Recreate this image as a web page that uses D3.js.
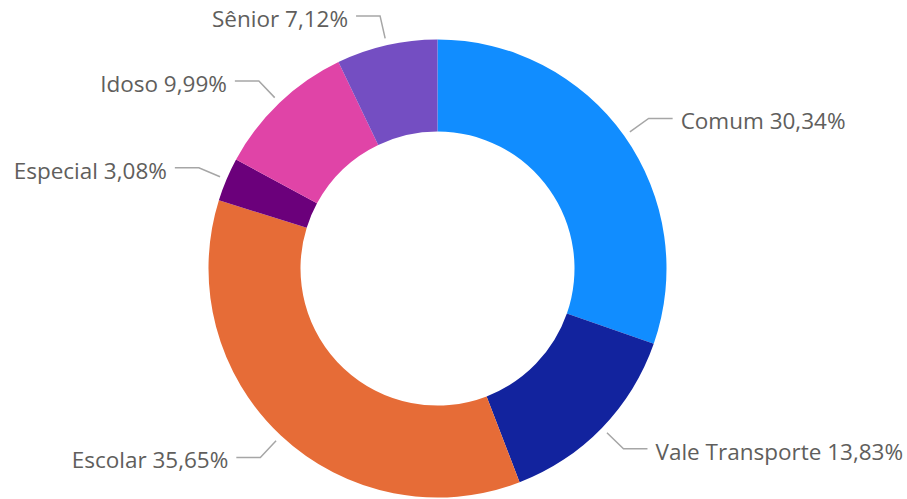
<!DOCTYPE html>
<html>
<head>
<meta charset="utf-8">
<script src="https://cdn.jsdelivr.net/npm/d3@7"></script>
<style>
  body { margin: 0; background: #fff; }
  svg { display: block; }
</style>
</head>
<body>
<svg id="chart" width="907" height="499"></svg>
<script>
// categories in clockwise order from 12 o'clock
const categories = ["Comum", "Vale Transporte", "Escolar", "Especial", "Idoso", "Sênior"];
const shares = [30.34, 13.83, 35.65, 3.08, 9.99, 7.12];
const labels = ["30,34%", "13,83%", "35,65%", "3,08%", "9,99%", "7,12%"];
const colors = ["#118DFF", "#12239E", "#E66C37", "#6B007B", "#E044A7", "#744EC2"];

const svg = d3.select("#chart"),
    width = +svg.attr("width"),
    height = +svg.attr("height");

const cx = 437.5, cy = 268.5;
const outerR = 229, innerR = 137;

const color = d3.scaleOrdinal().domain(categories).range(colors);

const data = categories.map((c, i) => ({name: c, value: shares[i], label: labels[i]}));

const pie = d3.pie()
    .sort(null)
    .value(d => d.value);

const arc = d3.arc()
    .innerRadius(innerR)
    .outerRadius(outerR);

const arcs = pie(data);

const g = svg.append("g")
    .attr("transform", "translate(" + cx + "," + cy + ")");

g.selectAll("path.slice")
    .data(arcs)
    .enter()
    .append("path")
    .attr("class", "slice")
    .attr("d", arc)
    .attr("fill", d => color(d.data.name));

// leader lines + labels
const startArc = d3.arc().innerRadius(236).outerRadius(236);
const elbowArc = d3.arc().innerRadius(259).outerRadius(259);
const horiz = 24, gap = 8;

function midAngle(d) { return (d.startAngle + d.endAngle) / 2; }

const labelG = g.selectAll("g.lbl")
    .data(arcs)
    .enter()
    .append("g")
    .attr("class", "lbl");

labelG.append("polyline")
    .attr("points", function(d) {
        const p0 = startArc.centroid(d);
        const p1 = elbowArc.centroid(d);
        const side = midAngle(d) < Math.PI ? 1 : -1;
        const p2 = [p1[0] + side * horiz, p1[1]];
        return [p0, p1, p2].map(p => p.join(",")).join(" ");
    })
    .attr("fill", "none")
    .attr("stroke", "#A6A6A6")
    .attr("stroke-width", 1.5);

labelG.append("text")
    .attr("x", function(d) {
        const p1 = elbowArc.centroid(d);
        const side = midAngle(d) < Math.PI ? 1 : -1;
        return p1[0] + side * (horiz + gap);
    })
    .attr("y", d => elbowArc.centroid(d)[1] + 3)
    .attr("dy", "0.35em")
    .attr("text-anchor", d => midAngle(d) < Math.PI ? "start" : "end")
    .style("font-family", "'Segoe UI', 'Open Sans', sans-serif")
    .style("font-size", "22.5px")
    .style("fill", "#605E5C")
    .text(d => d.data.name + " " + d.data.label);
</script>
</body>
</html>
